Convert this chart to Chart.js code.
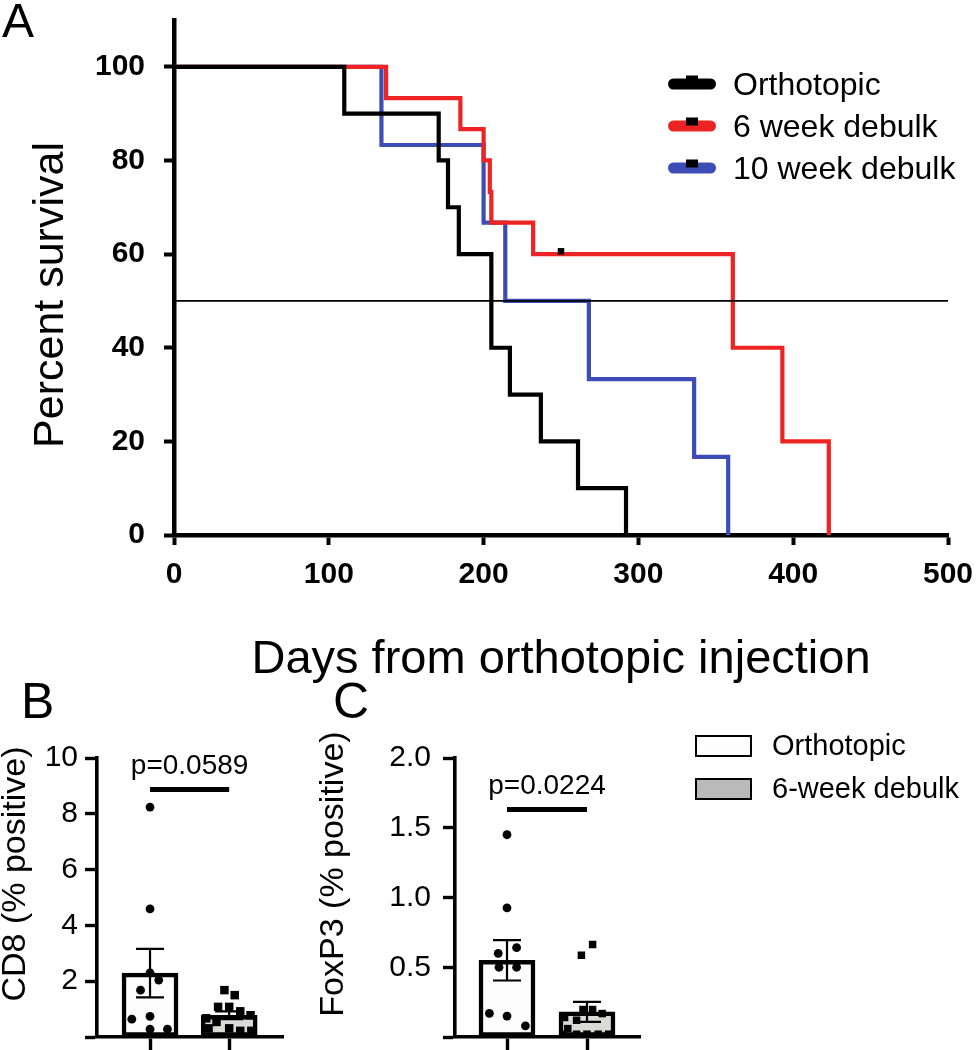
<!DOCTYPE html>
<html><head><meta charset="utf-8">
<script src="https://cdn.jsdelivr.net/npm/chart.js"></script>
<style>
html,body{margin:0;padding:0;background:#fff;}
body{width:977px;height:1050px;position:relative;overflow:hidden;}
canvas{position:absolute;}
#cA{left:0;top:0;}
#cB{left:0;top:670px;}
#cC{left:300px;top:670px;}
</style></head><body>
<canvas id="cA" width="977" height="690"></canvas>
<canvas id="cB" width="320" height="380"></canvas>
<canvas id="cC" width="677" height="380"></canvas>
<script>
// ---------- Panel A: Kaplan-Meier survival ----------
const seriesNames = ['Orthotopic', '6 week debulk', '10 week debulk'];
const daysOrtho = [0, 110, 171, 177, 184, 205, 217, 237, 261, 292];
const survOrtho = [100, 90, 80, 70, 60, 40, 30, 20, 10, 0];
const days6wk = [0, 137, 185, 200, 204, 205, 232, 361, 393, 423];
const surv6wk = [100, 93.3, 86.7, 80, 73.3, 66.7, 60, 40, 20, 0];
const days10wk = [0, 134, 200, 214, 268, 336, 358];
const surv10wk = [100, 83.3, 66.7, 50, 33.3, 16.7, 0];
const censorDays6wk = [250];
const censorSurv6wk = [60.6];
const medianSurv = 50;
const dayTicks = [0, 100, 200, 300, 400, 500];
const survTicks = [0, 20, 40, 60, 80, 100];

// ---------- Panels B and C ----------
const groups = ['Orthotopic', '6-week debulk'];
const groupX = [1, 2];
const cd8Mean = [2.29, 0.78];
const cd8Sem = [0.87, 0.14];
const cd8Ortho = [8.24, 4.59, 2.30, 2.04, 1.68, 0.74, 0.64, 0.28, 0.28];
const cd8OrthoX = [1.0, 1.0, 1.0, 1.11, 0.88, 1.0, 0.77, 1.0, 1.22];
const cd8Debulk = [1.68, 1.50, 1.08, 1.08, 0.92, 0.78, 0.67, 0.54, 0.31, 0.31, 0.22, 0.22];
const cd8DebulkX = [1.94, 2.07, 1.86, 2.0, 2.14, 2.27, 1.71, 1.84, 1.74, 2.0, 2.14, 2.28];
const cd8P = 'p=0.0589';
const cd8SigY = 8.87;
const cd8Ticks = [0, 2, 4, 6, 8, 10];

const foxMean = [0.55, 0.18];
const foxSem = [0.145, 0.072];
const foxOrtho = [1.45, 0.925, 0.64, 0.60, 0.50, 0.50, 0.17, 0.15, 0.08];
const foxOrthoX = [1.0, 1.0, 1.12, 0.89, 0.90, 1.12, 0.78, 1.0, 1.23];
const foxDebulk = [0.663, 0.586, 0.197, 0.197, 0.168, 0.14, 0.12, 0.06, 0.02, 0.02, 0.02, 0.02, 0.02];
const foxDebulkX = [2.07, 1.93, 1.95, 2.07, 2.19, 1.72, 1.87, 1.76, 1.70, 1.87, 2.0, 2.14, 2.27];
const foxP = 'p=0.0224';
const foxSigY = 1.63;
const foxTicks = [0, 0.5, 1.0, 1.5, 2.0];

// ---------- styling ----------
const FONT = "'Liberation Sans', Arial, Helvetica, sans-serif";
Chart.defaults.font.family = FONT;
Chart.defaults.color = '#000';
const BLACK = '#000000', RED = '#ee2424', BLUE = '#3d4db6';
const seriesColors = [BLACK, RED, BLUE];
const BAR_FILLS = ['#fdfdfd', '#dadad6'];
const LEGEND_FILLS = ['#fdfdfd', '#bababa'];

const pts = (xs, ys) => xs.map((x, i) => ({x: x, y: ys[i]}));
const noPad = s => { s.paddingTop = 0; s.paddingBottom = 0; s.paddingLeft = 0; s.paddingRight = 0; };

const decor = {
  id: 'decor',
  afterDatasetsDraw(chart, args, o) {
    const ctx = chart.ctx, xs = chart.scales.x, ys = chart.scales.y;
    ctx.save();
    if (o.errorBars) {
      const e = o.errorBars;
      ctx.strokeStyle = '#000'; ctx.lineWidth = 2.2; ctx.lineCap = 'butt';
      e.x.forEach((xv, i) => {
        const px = xs.getPixelForValue(xv);
        const t = ys.getPixelForValue(e.mean[i] + e.sem[i]);
        const b = ys.getPixelForValue(e.mean[i] - e.sem[i]);
        ctx.beginPath();
        ctx.moveTo(px, t); ctx.lineTo(px, b);
        ctx.moveTo(px - 14, t); ctx.lineTo(px + 14, t);
        ctx.moveTo(px - 14, b); ctx.lineTo(px + 14, b);
        ctx.stroke();
      });
    }
    if (o.sig) {
      const s = o.sig;
      const x1 = xs.getPixelForValue(s.x1), x2 = xs.getPixelForValue(s.x2);
      const y = ys.getPixelForValue(s.y);
      ctx.strokeStyle = '#000'; ctx.lineWidth = 5;
      ctx.beginPath(); ctx.moveTo(x1, y); ctx.lineTo(x2, y); ctx.stroke();
      ctx.fillStyle = '#000';
      ctx.font = '28px ' + FONT;
      ctx.textAlign = 'center'; ctx.textBaseline = 'middle';
      ctx.fillText(s.text, (x1 + x2) / 2, y - 23);
    }
    ctx.restore();
  },
  afterDraw(chart, args, o) {
    const ctx = chart.ctx;
    ctx.save();
    (o.texts || []).forEach(t => {
      ctx.save();
      ctx.translate(t.x, t.y);
      if (t.rot) ctx.rotate(t.rot * Math.PI / 180);
      ctx.font = (t.weight || 'normal') + ' ' + t.size + 'px ' + FONT;
      ctx.fillStyle = '#000';
      ctx.textAlign = t.align || 'left';
      ctx.textBaseline = t.baseline || 'alphabetic';
      ctx.fillText(t.t, 0, 0);
      ctx.restore();
    });
    if (o.lineLegend) {
      const L = o.lineLegend;
      L.labels.forEach((lab, i) => {
        const cy = L.y + i * L.dy;
        ctx.strokeStyle = L.colors[i]; ctx.lineWidth = 11; ctx.lineCap = 'round';
        ctx.beginPath(); ctx.moveTo(L.x + 5.5, cy); ctx.lineTo(L.x + 42.5, cy); ctx.stroke();
        ctx.fillStyle = '#000';
        ctx.fillRect(L.x + 18, cy - 8.5, 12, 8);
        ctx.font = '32px ' + FONT;
        ctx.textAlign = 'left'; ctx.textBaseline = 'middle';
        ctx.fillText(lab, L.x + 65, cy + 2);
      });
    }
    if (o.boxLegend) {
      const L = o.boxLegend;
      L.labels.forEach((lab, i) => {
        const top = L.y + i * L.dy;
        ctx.fillStyle = L.fills[i];
        ctx.fillRect(L.x, top, 57, 22);
        ctx.strokeStyle = '#000'; ctx.lineWidth = 2;
        ctx.strokeRect(L.x + 1, top + 1, 55, 20);
        ctx.fillStyle = '#000';
        ctx.font = '29px ' + FONT;
        ctx.textAlign = 'left'; ctx.textBaseline = 'middle';
        ctx.fillText(lab, L.x + 77, top + 12);
      });
    }
    ctx.restore();
  }
};
Chart.register(decor);

// ---------- Chart A ----------
const lineDs = (label, xs, ys, color) => ({
  type: 'line', label: label, data: pts(xs, ys), borderColor: color, borderWidth: 4.2,
  stepped: 'before', pointRadius: 0, fill: false, borderCapStyle: 'butt', borderJoinStyle: 'miter'
});

new Chart(document.getElementById('cA'), {
  type: 'line',
  data: {
    datasets: [
      {label: 'median', data: [{x: dayTicks[0], y: medianSurv}, {x: dayTicks[dayTicks.length - 1], y: medianSurv}],
       borderColor: '#000', borderWidth: 1.6, pointRadius: 0, fill: false},
      lineDs(seriesNames[0], daysOrtho, survOrtho, BLACK),
      {type: 'scatter', label: 'censored', data: pts(censorDays6wk, censorSurv6wk), pointStyle: 'rect',
       pointRadius: 4.6, backgroundColor: '#000', borderWidth: 0},
      lineDs(seriesNames[1], days6wk, surv6wk, RED),
      lineDs(seriesNames[2], days10wk, surv10wk, BLUE)
    ]
  },
  options: {
    responsive: false, animation: false,
    layout: {padding: {left: 0, right: 29, top: 20, bottom: 0}},
    plugins: {
      legend: {display: false}, tooltip: {enabled: false},
      decor: {
        texts: [
          {t: 'A', x: 2, y: 37, size: 48},
          {t: 'Percent survival', x: 51, y: 295, size: 43, rot: -90, align: 'center', baseline: 'middle'}
        ],
        lineLegend: {labels: seriesNames, colors: seriesColors, x: 668, y: 84, dy: 42}
      }
    },
    scales: {
      x: {
        type: 'linear', min: 0, max: 500,
        afterBuildTicks: s => { s.ticks = dayTicks.map(v => ({value: v})); },
        afterFit: s => { s.height = 155; noPad(s); },
        border: {display: true, color: '#000', width: 4.5},
        grid: {display: true, drawOnChartArea: false, drawTicks: true, tickLength: 10, tickWidth: 4, tickColor: '#000', color: '#000'},
        ticks: {font: {size: 30, weight: 'bold'}, padding: 12, color: '#000', maxRotation: 0, autoSkip: false},
        title: {display: true, text: 'Days from orthotopic injection', font: {size: 47}, color: '#000', padding: {top: 0, bottom: 2}}
      },
      y: {
        type: 'linear', min: 0, max: 110,
        afterBuildTicks: s => { s.ticks = survTicks.map(v => ({value: v})); },
        afterFit: s => { s.width = 174; noPad(s); },
        border: {display: true, color: '#000', width: 4.5},
        grid: {display: true, drawOnChartArea: false, drawTicks: true, tickLength: 10, tickWidth: 4, tickColor: '#000', color: '#000'},
        ticks: {font: {size: 30, weight: 'bold'}, padding: 19, color: '#000', autoSkip: false}
      }
    }
  }
});

// ---------- Bar panels ----------
function barPanel(id, cfg) {
  return new Chart(document.getElementById(id), {
    type: 'bar',
    data: {
      datasets: [
        {type: 'scatter', label: groups[0], data: pts(cfg.orthoX, cfg.ortho), pointStyle: 'circle',
         pointRadius: 4.4, backgroundColor: '#000', borderWidth: 0, order: 0},
        {type: 'scatter', label: groups[1], data: pts(cfg.debX, cfg.deb), pointStyle: 'rect',
         pointRadius: cfg.sq, backgroundColor: '#000', borderWidth: 0, order: 0},
        {type: 'bar', label: 'mean', data: pts(groupX, cfg.mean), backgroundColor: BAR_FILLS,
         borderColor: '#000', borderWidth: 4.5, borderSkipped: false, barThickness: 56, order: 1}
      ]
    },
    options: {
      responsive: false, animation: false,
      layout: {padding: {left: 0, right: cfg.padRight, top: 88, bottom: 0}},
      plugins: {
        legend: {display: false}, tooltip: {enabled: false},
        decor: {
          errorBars: {x: groupX, mean: cfg.mean, sem: cfg.sem},
          sig: {x1: groupX[0], x2: groupX[1], y: cfg.sigY, text: cfg.p},
          texts: cfg.texts,
          boxLegend: cfg.boxLegend
        }
      },
      scales: {
        x: {
          type: 'linear', min: cfg.xMin, max: cfg.xMax, offset: false,
          afterBuildTicks: s => { s.ticks = groupX.map(v => ({value: v})); },
          afterFit: s => { s.height = 13; noPad(s); },
          border: {display: true, color: '#000', width: 3.6},
          grid: {display: true, offset: false, drawOnChartArea: false, drawTicks: true, tickLength: 14, tickWidth: 3.4, tickColor: '#000', color: '#000'},
          ticks: {display: false}
        },
        y: {
          type: 'linear', min: cfg.yTicks[0], max: cfg.yTicks[cfg.yTicks.length - 1],
          afterBuildTicks: s => { s.ticks = cfg.yTicks.map(v => ({value: v})); },
          afterFit: s => { s.width = cfg.axisLeft; noPad(s); },
          border: {display: true, color: '#000', width: 3.6},
          grid: {display: true, drawOnChartArea: false, drawTicks: true, tickLength: 12, tickWidth: 3.4, tickColor: '#000', color: '#000'},
          ticks: {font: {size: 30}, padding: cfg.tickPad, color: '#000', autoSkip: false,
                  callback: v => v === 0 ? '' : (cfg.dec ? Number(v).toFixed(1) : String(v))}
        }
      }
    }
  });
}

barPanel('cB', {
  ortho: cd8Ortho, orthoX: cd8OrthoX, deb: cd8Debulk, debX: cd8DebulkX, sq: 6,
  mean: cd8Mean, sem: cd8Sem, sigY: cd8SigY, p: cd8P, yTicks: cd8Ticks, dec: false,
  xMin: 0.33, xMax: 2.68, axisLeft: 97, padRight: 37, tickPad: 7,
  texts: [
    {t: 'B', x: 21, y: 48, size: 50},
    {t: 'CD8 (% positive)', x: 16, y: 204, size: 34, rot: -90, align: 'center', baseline: 'middle'}
  ]
});

barPanel('cC', {
  ortho: foxOrtho, orthoX: foxOrthoX, deb: foxDebulk, debX: foxDebulkX, sq: 5.3,
  mean: foxMean, sem: foxSem, sigY: foxSigY, p: foxP, yTicks: foxTicks, dec: true,
  xMin: 0.35, xMax: 2.6625, axisLeft: 155, padRight: 337, tickPad: 12,
  texts: [
    {t: 'C', x: 33, y: 48, size: 50},
    {t: 'FoxP3 (% positive)', x: 34, y: 204, size: 34, rot: -90, align: 'center', baseline: 'middle'}
  ],
  boxLegend: {labels: groups, fills: LEGEND_FILLS, x: 395, y: 65, dy: 43}
});
</script>
</body></html>
